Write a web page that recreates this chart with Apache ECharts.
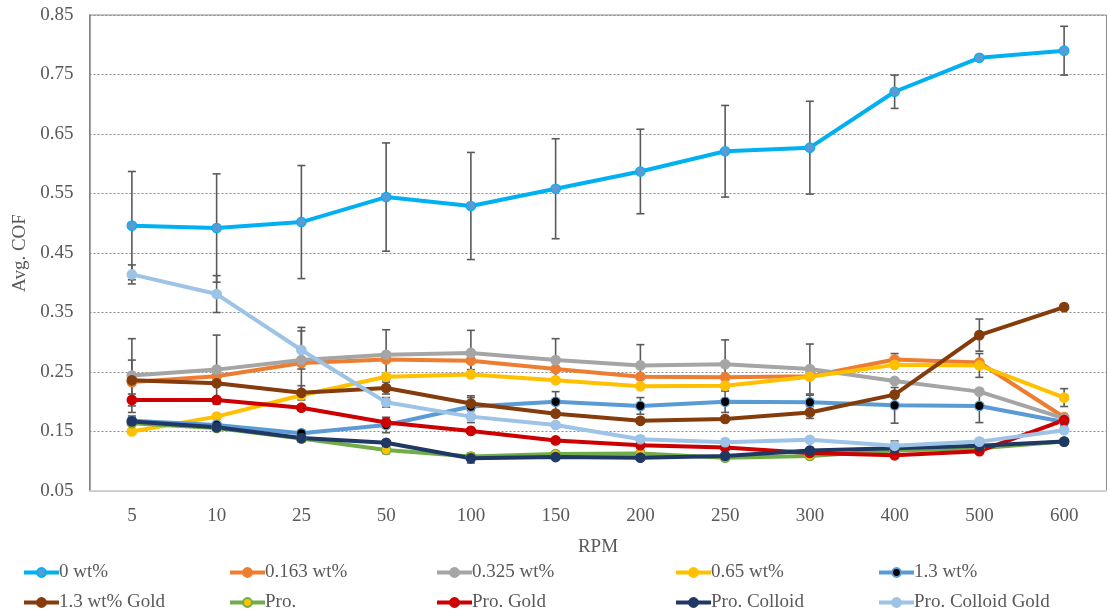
<!DOCTYPE html>
<html>
<head>
<meta charset="utf-8">
<script src="https://cdn.jsdelivr.net/npm/echarts@6/dist/echarts.min.js"></script>
<style>
html,body{margin:0;padding:0;background:#fff;}
#chart{width:1109px;height:613px;}
</style>
</head>
<body>
<div id="chart"></div>
<script>
// ---- data ----
const categories = ['5','10','25','50','100','150','200','250','300','400','500','600'];
const yTicks = [0.05, 0.15, 0.25, 0.35, 0.45, 0.55, 0.65, 0.75, 0.85];

const names = ['0 wt%','0.163 wt%','0.325 wt%','0.65 wt%','1.3 wt%','1.3 wt% Gold','Pro.','Pro. Gold','Pro. Colloid','Pro. Colloid Gold'];

const wt0            = [0.496, 0.492, 0.502, 0.544, 0.529, 0.558, 0.587, 0.621, 0.627, 0.721, 0.778, 0.790];
const wt0163         = [0.233, 0.243, 0.265, 0.271, 0.269, 0.255, 0.242, 0.241, 0.243, 0.271, 0.266, 0.174];
const wt0325         = [0.244, 0.254, 0.270, 0.279, 0.282, 0.270, 0.261, 0.263, 0.255, 0.235, 0.217, 0.172];
const wt065          = [0.150, 0.175, 0.211, 0.242, 0.246, 0.236, 0.226, 0.227, 0.242, 0.262, 0.261, 0.207];
const wt13           = [0.168, 0.161, 0.147, 0.161, 0.192, 0.200, 0.193, 0.200, 0.199, 0.194, 0.193, 0.166];
const wt13Gold       = [0.236, 0.231, 0.215, 0.223, 0.197, 0.180, 0.168, 0.171, 0.182, 0.212, 0.312, 0.359];
const pro            = [0.164, 0.156, 0.138, 0.119, 0.108, 0.112, 0.113, 0.106, 0.109, 0.118, 0.122, 0.133];
const proGold        = [0.203, 0.203, 0.190, 0.165, 0.151, 0.135, 0.127, 0.123, 0.114, 0.110, 0.117, 0.169];
const proColloid     = [0.167, 0.157, 0.139, 0.131, 0.105, 0.107, 0.106, 0.109, 0.118, 0.122, 0.126, 0.133];
const proColloidGold = [0.414, 0.381, 0.287, 0.199, 0.175, 0.161, 0.137, 0.132, 0.136, 0.126, 0.133, 0.152];

// error bar half-widths (0 = none visible)
const wt0Err            = [0.091, 0.091, 0.095, 0.091, 0.090, 0.084, 0.071, 0.077, 0.078, 0.028, 0, 0.041];
const wt0163Err         = [0, 0, 0, 0, 0.015, 0, 0, 0, 0, 0.010, 0, 0];
const wt0325Err         = [0.062, 0.058, 0.055, 0.042, 0.038, 0.036, 0.035, 0.041, 0.042, 0, 0, 0];
const wt065Err          = [0, 0, 0, 0, 0, 0, 0, 0, 0, 0, 0.020, 0.015];
const wt13Err           = [0.008, 0, 0.005, 0.013, 0.018, 0.017, 0.014, 0.018, 0.012, 0.030, 0.028, 0.008];
const wt13GoldErr       = [0.034, 0, 0.012, 0.010, 0.010, 0, 0, 0, 0.010, 0, 0.027, 0];
const proErr            = [0.010, 0.005, 0, 0.006, 0.005, 0, 0.005, 0.005, 0, 0, 0, 0];
const proGoldErr        = [0.010, 0, 0, 0.008, 0, 0, 0, 0, 0, 0, 0, 0];
const proColloidErr     = [0, 0, 0.007, 0, 0.008, 0, 0, 0, 0, 0, 0, 0];
const proColloidGoldErr = [0.016, 0.031, 0.032, 0.008, 0.010, 0, 0.005, 0.005, 0, 0.008, 0.005, 0];

const values = [wt0, wt0163, wt0325, wt065, wt13, wt13Gold, pro, proGold, proColloid, proColloidGold];
const errors = [wt0Err, wt0163Err, wt0325Err, wt065Err, wt13Err, wt13GoldErr, proErr, proGoldErr, proColloidErr, proColloidGoldErr];

// ---- styles ----
const lineColors   = ['#00B0F0','#ED7D31','#A5A5A5','#FFC000','#5B9BD5','#843C0C','#70AD47','#CC0000','#203864','#9DC3E6'];
const markerFill   = ['#5B9BD5','#ED7D31','#A5A5A5','#FFC000','#000000','#843C0C','#FFC000','#CC0000','#203864','#9DC3E6'];
const markerBorder = ['#00B0F0','#ED7D31','#A5A5A5','#FFC000','#5B9BD5','#843C0C','#70AD47','#CC0000','#203864','#9DC3E6'];
const legendLeft = [22, 228, 435, 674, 877];
const legendTop = [563, 593];
const FONT = '"Liberation Serif", "Times New Roman", serif';
const TXT = '#595959';

const series = [];
names.forEach((name, i) => {
  const errData = [];
  values[i].forEach((v, k) => {
    if (errors[i][k] > 0) errData.push([k, v - errors[i][k], v + errors[i][k]]);
  });
  series.push({
    type: 'custom',
    name: name + ' err',
    data: errData,
    encode: { x: 0, y: [1, 2] },
    silent: true,
    renderItem: function (params, api) {
      const x = api.value(0);
      const lo = api.coord([x, api.value(1)]);
      const hi = api.coord([x, api.value(2)]);
      const cw = 4;
      const st = { stroke: '#5a5a5a', lineWidth: 1.6 };
      return {
        type: 'group',
        children: [
          { type: 'line', shape: { x1: lo[0], y1: lo[1], x2: hi[0], y2: hi[1] }, style: st },
          { type: 'line', shape: { x1: lo[0] - cw, y1: lo[1], x2: lo[0] + cw, y2: lo[1] }, style: st },
          { type: 'line', shape: { x1: hi[0] - cw, y1: hi[1], x2: hi[0] + cw, y2: hi[1] }, style: st }
        ]
      };
    }
  });
  series.push({
    type: 'line',
    name: name,
    data: values[i],
    symbol: 'circle',
    symbolSize: 9.5,
    showAllSymbol: true,
    lineStyle: { color: lineColors[i], width: 4 },
    itemStyle: { color: markerFill[i], borderColor: markerBorder[i], borderWidth: 1.2 },
    emphasis: { disabled: true }
  });
});

const legends = names.map((name, i) => ({
  data: [name],
  left: legendLeft[i % 5],
  top: legendTop[Math.floor(i / 5)],
  itemWidth: 35,
  itemHeight: 11,
  itemGap: 0,
  padding: 0,
  selectedMode: false,
  lineStyle: { width: 4 },
  textStyle: { fontFamily: FONT, fontSize: 19, color: TXT, padding: [0, 0, 0, -5] }
}));

const option = {
  animation: false,
  backgroundColor: '#ffffff',
  grid: {
    left: 89.5, right: 2.5, top: 15, bottom: 122,
    show: true, borderColor: '#8c8c8c', borderWidth: 1, backgroundColor: 'transparent'
  },
  legend: legends,
  xAxis: {
    type: 'category',
    data: categories,
    boundaryGap: true,
    name: 'RPM',
    nameLocation: 'middle',
    nameGap: 47,
    nameTextStyle: { fontFamily: FONT, fontSize: 19, color: TXT },
    axisLine: { show: true, lineStyle: { color: '#d9d9d9', width: 1.5 } },
    axisTick: { show: false },
    axisLabel: { fontFamily: FONT, fontSize: 19, color: TXT, margin: 16 },
    splitLine: { show: false }
  },
  yAxis: {
    type: 'value',
    min: yTicks[0],
    max: yTicks[yTicks.length - 1],
    interval: 0.1,
    name: 'Avg. COF',
    nameLocation: 'middle',
    nameGap: 55,
    nameTextStyle: { fontFamily: FONT, fontSize: 19, color: TXT },
    axisLine: { show: true, lineStyle: { color: '#868686', width: 1.5 } },
    axisTick: { show: false },
    axisLabel: {
      fontFamily: FONT, fontSize: 19, color: TXT, margin: 16,
      formatter: v => v.toFixed(2)
    },
    splitLine: { show: true, lineStyle: { color: '#8a8a8a', type: [2, 2], width: 1 } }
  },
  series: series
};

const chart = echarts.init(document.getElementById('chart'), null, { renderer: 'canvas' });
chart.setOption(option);
</script>
</body>
</html>
